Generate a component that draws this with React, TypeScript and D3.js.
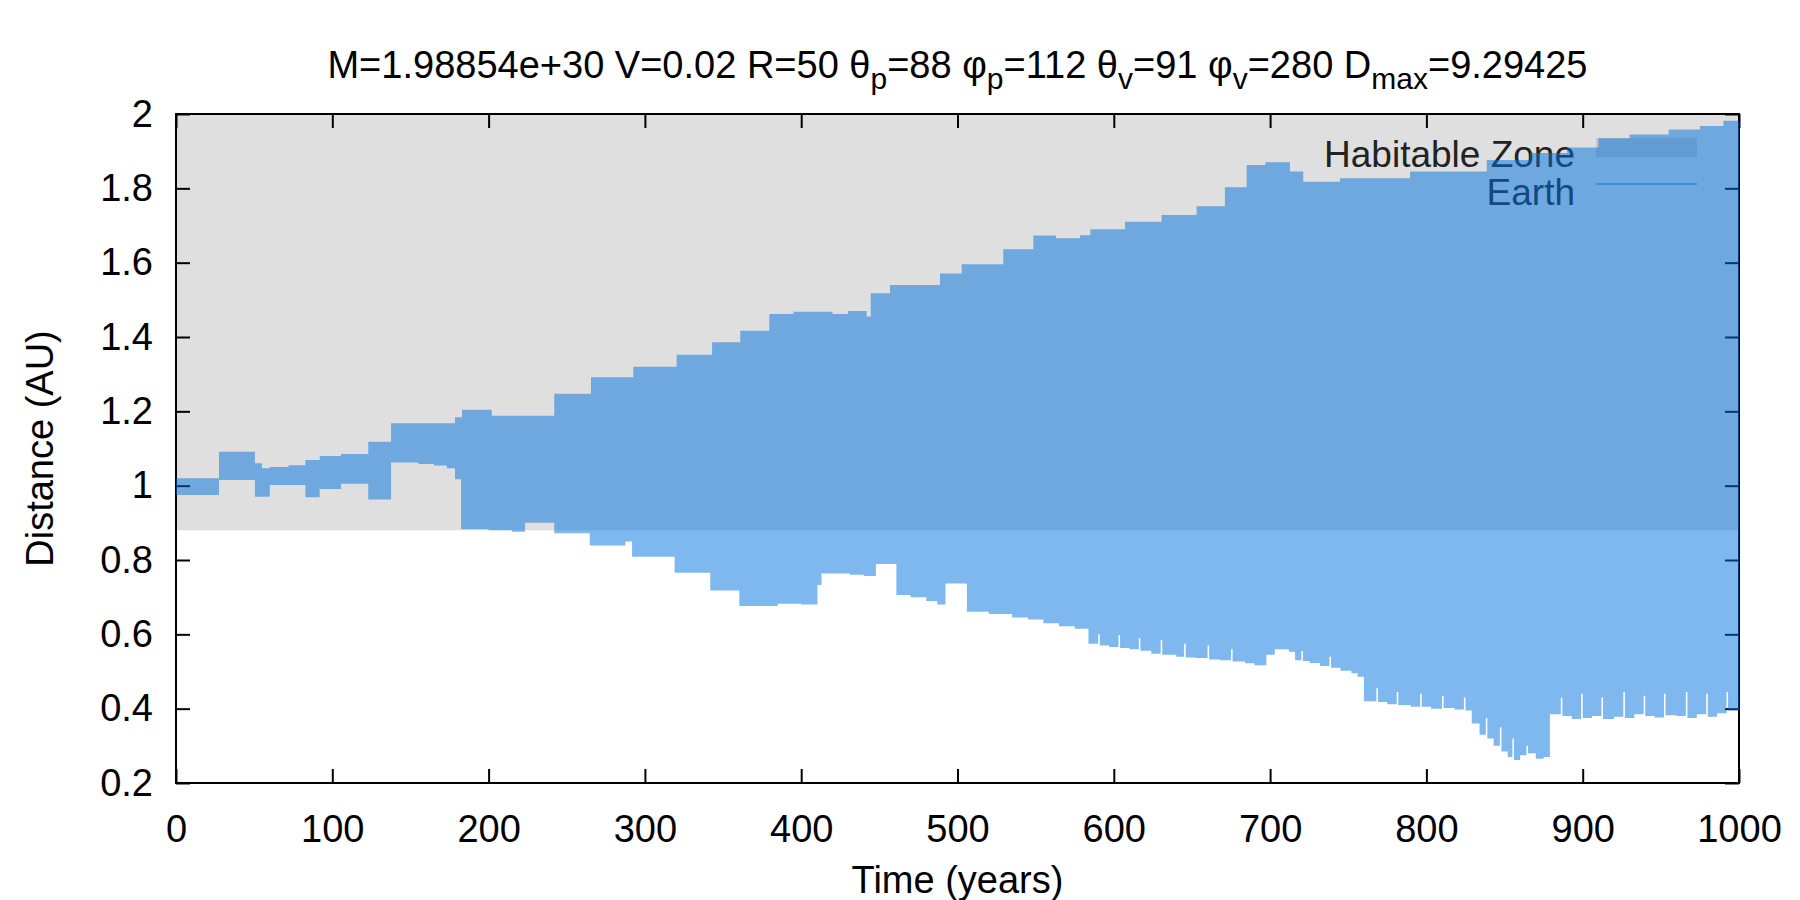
import * as d3 from 'd3';
import { useEffect, useRef } from 'react';

const width = 1800;
const height = 900;
const marginTop = 114;
const marginRight = 61;
const marginBottom = 117;
const marginLeft = 176;

const xTicks = [0, 100, 200, 300, 400, 500, 600, 700, 800, 900, 1000];
const yTicks = [0.2, 0.4, 0.6, 0.8, 1, 1.2, 1.4, 1.6, 1.8, 2];

// habitable zone (AU)
const habitableInner = 0.88;
const habitableOuter = 2.05;

// upper envelope of Earth's distance (step after)
const upperYears = [
  0, 27.5, 50.5, 55, 60, 72, 82.8, 92, 105.6, 123, 137.6, 178.5, 183, 202, 242, 265.5, 292.6,
  320.3, 343, 361, 379.6, 395, 420, 430, 441.9, 444.5, 456.8, 488.8, 502.7, 529.3, 548.5, 563,
  578.4, 585, 607.2, 630.6, 653, 671.1, 685, 697, 712.7, 721.2, 744.7, 789.5, 838.6, 866.3, 890,
  910, 930, 955, 975, 990, 1000,
];
const upperDist = [
  1.02, 1.091, 1.06, 1.047, 1.05, 1.055, 1.069, 1.08, 1.085, 1.118, 1.168, 1.184, 1.204, 1.188,
  1.247, 1.292, 1.32, 1.352, 1.386, 1.417, 1.462, 1.468, 1.462, 1.47, 1.455, 1.518, 1.54, 1.571,
  1.596, 1.636, 1.673, 1.666, 1.674, 1.69, 1.71, 1.728, 1.752, 1.803, 1.863, 1.87, 1.845, 1.818,
  1.827, 1.845, 1.876, 1.895, 1.91, 1.935, 1.945, 1.958, 1.968, 1.982, 1.982,
];

// lower envelope of Earth's distance (step after)
const lowerYears = [
  0, 27.5, 50.5, 60, 82.8, 91.9, 105.6, 123, 137.6, 155, 165, 173.3, 178.5, 182.4, 200, 215,
  223.3, 242, 264.7, 287.5, 291.8, 319, 341.8, 360.4, 385, 400, 410.4, 413, 431, 440, 447.8,
  460.9, 470, 480, 487, 492.3, 506, 520, 535, 545, 555, 565, 575, 583.8, 590, 591, 597, 603, 604,
  610, 616, 617, 624, 630, 631, 640, 645, 646, 652, 660, 661, 668, 675, 676, 684, 690, 697.6, 703,
  712, 716, 720, 721, 725.3, 732, 738, 739, 745, 752, 756, 760, 768, 769, 775, 781, 782, 790, 796,
  797, 803, 810, 811, 818, 824, 825, 829, 834, 838, 839, 843, 847, 848, 852, 855, 856, 860, 864,
  865, 870, 875, 879, 886, 887, 893, 899, 900, 906, 912, 913, 920, 926, 927, 933, 939, 940, 946,
  952, 953, 960, 966, 967, 973, 979, 980, 986, 992, 993, 1000,
];
const lowerDist = [
  0.975, 1.015, 0.97, 1.002, 0.969, 0.991, 1.005, 0.963, 1.062, 1.058, 1.054, 1.047, 1.017, 0.883,
  0.88, 0.876, 0.9, 0.872, 0.839, 0.85, 0.809, 0.766, 0.718, 0.676, 0.682, 0.68, 0.733, 0.764,
  0.76, 0.757, 0.789, 0.706, 0.7, 0.69, 0.68, 0.737, 0.661, 0.655, 0.645, 0.64, 0.63, 0.622,
  0.615, 0.575, 0.6, 0.57, 0.566, 0.598, 0.563, 0.56, 0.59, 0.556, 0.548, 0.585, 0.545, 0.54,
  0.575, 0.538, 0.536, 0.57, 0.532, 0.53, 0.56, 0.527, 0.522, 0.517, 0.545, 0.56, 0.553, 0.53,
  0.555, 0.528, 0.523, 0.515, 0.54, 0.51, 0.502, 0.495, 0.486, 0.42, 0.455, 0.418, 0.412, 0.445,
  0.41, 0.405, 0.44, 0.405, 0.4, 0.435, 0.402, 0.398, 0.43, 0.395, 0.36, 0.33, 0.375, 0.32, 0.3,
  0.35, 0.285, 0.27, 0.32, 0.262, 0.275, 0.3, 0.28, 0.265, 0.27, 0.385, 0.43, 0.38, 0.372, 0.44,
  0.375, 0.38, 0.43, 0.372, 0.378, 0.445, 0.375, 0.385, 0.435, 0.38, 0.376, 0.44, 0.382, 0.38,
  0.445, 0.375, 0.385, 0.44, 0.378, 0.388, 0.445, 0.395, 0.405,
];

const font = '"Liberation Sans", Arial, Helvetica, sans-serif';
const bandColor = 'rgb(0,114,221)';

const stepAt = (ts: number[], vs: number[], t: number) =>
  vs[Math.max(0, d3.bisectRight(ts, t) - 1)];

export default function App() {
  const ref = useRef<HTMLDivElement>(null);

  useEffect(() => {
    if (!ref.current) return;

    const x = d3.scaleLinear().domain([0, 1000]).range([marginLeft, width - marginRight]);
    const y = d3.scaleLinear().domain([0.2, 2]).range([height - marginBottom, marginTop]);

    const svg = d3
      .create('svg')
      .attr('width', width)
      .attr('height', height)
      .style('display', 'block')
      .style('font-family', font);

    svg.append('rect').attr('width', width).attr('height', height).attr('fill', '#fff');

    const defs = svg.append('defs');
    defs
      .append('clipPath')
      .attr('id', 'plot-clip')
      .append('rect')
      .attr('x', marginLeft)
      .attr('y', marginTop)
      .attr('width', width - marginLeft - marginRight)
      .attr('height', height - marginTop - marginBottom);

    // 居住可能領域
    svg
      .append('rect')
      .attr('clip-path', 'url(#plot-clip)')
      .attr('x', x(0))
      .attr('width', x(1000) - x(0))
      .attr('y', y(habitableOuter))
      .attr('height', y(habitableInner) - y(habitableOuter))
      .attr('fill', 'rgb(128,128,128)')
      .attr('fill-opacity', 0.25);

    // 枠線
    svg
      .append('rect')
      .attr('x', marginLeft)
      .attr('y', marginTop)
      .attr('width', width - marginLeft - marginRight)
      .attr('height', height - marginTop - marginBottom)
      .attr('fill', 'none')
      .attr('stroke', '#000')
      .attr('stroke-width', 2);

    const fmt = (d: number) => String(+d.toFixed(1));

    const xAxis = svg
      .append('g')
      .attr('transform', `translate(0,${height - marginBottom})`)
      .call(
        d3
          .axisBottom(x)
          .tickValues(xTicks)
          .tickSize(-14)
          .tickPadding(32)
          .tickFormat((d) => fmt(+d))
      );
    const yAxis = svg
      .append('g')
      .attr('transform', `translate(${marginLeft},0)`)
      .call(
        d3
          .axisLeft(y)
          .tickValues(yTicks)
          .tickSize(-14)
          .tickPadding(23)
          .tickFormat((d) => fmt(+d))
      );
    const xTop = svg
      .append('g')
      .attr('transform', `translate(0,${marginTop})`)
      .call(d3.axisTop(x).tickValues(xTicks).tickSize(-14).tickFormat(() => ''));
    const yRight = svg
      .append('g')
      .attr('transform', `translate(${width - marginRight},0)`)
      .call(d3.axisRight(y).tickValues(yTicks).tickSize(-14).tickFormat(() => ''));

    for (const g of [xAxis, yAxis, xTop, yRight]) {
      g.select('.domain').remove();
      g.selectAll('line').attr('stroke', '#000').attr('stroke-width', 2);
      g.selectAll('text')
        .attr('fill', '#000')
        .style('font-family', font)
        .style('font-size', '38px');
    }

    // 軸ラベル
    svg
      .append('text')
      .attr('x', (marginLeft + width - marginRight) / 2)
      .attr('y', 893)
      .attr('text-anchor', 'middle')
      .style('font-size', '38px')
      .text('Time (years)');
    svg
      .append('text')
      .attr('transform', `translate(53,${(marginTop + height - marginBottom) / 2}) rotate(-90)`)
      .attr('text-anchor', 'middle')
      .style('font-size', '38px')
      .text('Distance (AU)');

    // タイトル（下付き文字つき）
    const titleParts: Array<[string, boolean]> = [
      ['M=1.98854e+30 V=0.02 R=50 θ', false],
      ['p', true],
      ['=88 φ', false],
      ['p', true],
      ['=112 θ', false],
      ['v', true],
      ['=91 φ', false],
      ['v', true],
      ['=280 D', false],
      ['max', true],
      ['=9.29425', false],
    ];
    const title = svg
      .append('text')
      .attr('x', (marginLeft + width - marginRight) / 2)
      .attr('y', 78)
      .attr('text-anchor', 'middle')
      .style('font-size', '38px');
    let shifted = false;
    for (const [s, sub] of titleParts) {
      const dy = sub && !shifted ? 11 : !sub && shifted ? -11 : 0;
      shifted = sub;
      title
        .append('tspan')
        .attr('dy', dy)
        .style('font-size', sub ? '30px' : '38px')
        .text(s);
    }

    // 凡例
    const keyX = 1575;
    svg
      .append('text')
      .attr('x', keyX)
      .attr('y', 167)
      .attr('text-anchor', 'end')
      .attr('fill', '#222')
      .style('font-size', '37px')
      .text('Habitable Zone');
    svg
      .append('rect')
      .attr('x', 1596)
      .attr('y', 138)
      .attr('width', 101)
      .attr('height', 19)
      .attr('fill', 'rgb(128,128,128)')
      .attr('fill-opacity', 0.25);
    svg
      .append('text')
      .attr('x', keyX)
      .attr('y', 205)
      .attr('text-anchor', 'end')
      .attr('fill', '#222')
      .style('font-size', '37px')
      .text('Earth');

    // 地球の距離の範囲（半透明）
    const years = Array.from(new Set([...upperYears, ...lowerYears])).sort((a, b) => a - b);
    const band = years.map((t) => ({
      t,
      hi: stepAt(upperYears, upperDist, t),
      lo: stepAt(lowerYears, lowerDist, t),
    }));
    const area = d3
      .area<{ t: number; hi: number; lo: number }>()
      .x((d) => x(d.t))
      .y0((d) => y(d.lo))
      .y1((d) => y(d.hi))
      .curve(d3.curveStepAfter);
    svg
      .append('path')
      .datum(band)
      .attr('clip-path', 'url(#plot-clip)')
      .attr('fill', bandColor)
      .attr('fill-opacity', 0.5)
      .attr('d', area);

    svg
      .append('line')
      .attr('x1', 1596)
      .attr('x2', 1697)
      .attr('y1', 184)
      .attr('y2', 184)
      .attr('stroke', '#3d8fe0')
      .attr('stroke-width', 2);

    ref.current.innerHTML = '';
    ref.current.appendChild(svg.node()!);
  }, [ref]);

  return <div ref={ref} style={{ position: 'absolute', left: 0, top: 0 }} />;
}
